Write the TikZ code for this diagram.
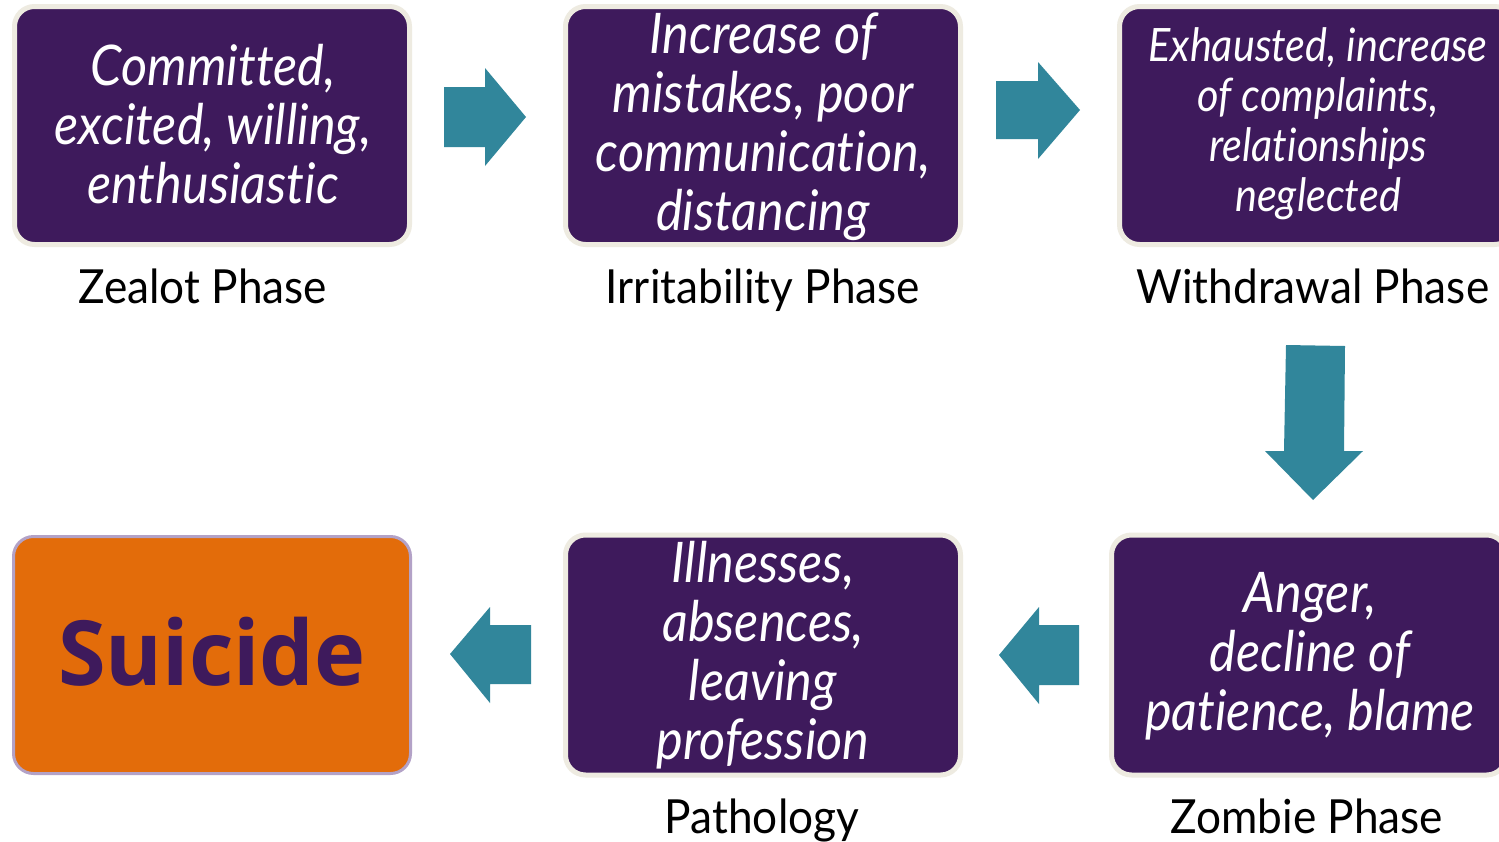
\documentclass[tikz,border=0pt]{standalone}
\usepackage{fontspec}
\setmainfont{Lato}[Ligatures={NoCommon}, UprightFeatures={FakeStretch=0.94}, ItalicFeatures={FakeStretch=0.9}]
\newfontfamily\suifont{Open Sans}[FakeStretch=0.96]
\definecolor{deeppurple}{HTML}{3E1A5C}
\definecolor{cream}{HTML}{EEEBE1}
\definecolor{burnorange}{HTML}{E36C0A}
\definecolor{lavend}{HTML}{B3A2C7}
\definecolor{tealarrow}{HTML}{31869B}
\tikzset{
  phasebox/.style={draw=cream, line width=2.5pt, fill=deeppurple, rounded corners=10pt,
    minimum width=197.5pt, minimum height=119pt, inner sep=0pt},
  boxtext/.style={text=white, align=center, inner sep=0pt,
    font=\fontsize{28}{29.5}\selectfont\itshape},
  smalltext/.style={text=white, align=center, inner sep=0pt,
    font=\fontsize{23}{25}\selectfont\itshape},
  phaselabel/.style={anchor=base, inner sep=0pt, font=\fontsize{23.5}{26}\selectfont},
  blockarrow/.style={fill=tealarrow, draw=none},
}
\begin{document}
\begin{tikzpicture}[x=0.5pt,y=-0.5pt]
\useasboundingbox[fill=white] (0,0) rectangle (1499,841);
% top row boxes
\node[phasebox] (b1) at (212,125.5) {};
\node[phasebox] (b2) at (763,125.5) {};
\node[phasebox] (b3) at (1317,125.5) {};
% bottom row boxes
\node[draw=lavend, line width=1.5pt, fill=burnorange, rounded corners=10pt,
  minimum width=198.5pt, minimum height=118.5pt, inner sep=0pt] (b6) at (212,655) {};
\node[phasebox, minimum height=120pt] (b5) at (763,655) {};
\node[phasebox, minimum height=120pt] (b4) at (1309,655) {};
% box texts
\node[boxtext] (t1) at (213,124) {Committed,\\excited, willing,\\enthusiastic};
\node[boxtext] (t2) at (763,127) {Increase of\\mistakes, poor\\communication,\\distancing};
\node[smalltext] (t3) at (1318,124) {Exhausted, increase\\of complaints,\\relationships\\neglected};
\node[boxtext] (t5) at (763,655) {Illnesses,\\absences,\\leaving\\profession};
\node[boxtext] (t4) at (1310,656) {Anger,\\decline of\\patience, blame};
\node[text=deeppurple, inner sep=0pt, font=\suifont\bfseries\fontsize{45}{50}\selectfont] (t6) at (212,652) {Suicide};
% phase labels
\node[phaselabel] (l1) at (203,303) {Zealot Phase};
\node[phaselabel] (l2) at (763,303) {Irritability Phase};
\node[phaselabel] (l3) at (1313,303) {Withdrawal Phase};
\node[phaselabel] (l5) at (762,833) {Pathology};
\node[phaselabel] (l4) at (1307,833) {Zombie Phase};
% block arrows
\fill[blockarrow] (444,87) -- (485,87) -- (485,68) -- (526,117) -- (485,166) -- (485,147) -- (444,147) -- cycle;
\fill[blockarrow] (996,81) -- (1038,81) -- (1038,62) -- (1080,110) -- (1038,159) -- (1038,139) -- (996,139) -- cycle;
\fill[blockarrow] (1286,345) -- (1345,346) -- (1344,451) -- (1363,451) -- (1313,500) -- (1265,451) -- (1284,451) -- cycle;
\fill[blockarrow] (1079,625) -- (1039,625) -- (1039,607) -- (999,655) -- (1039,704) -- (1039,685) -- (1079,685) -- cycle;
\fill[blockarrow] (531,625) -- (490,625) -- (490,607) -- (450,654) -- (490,703) -- (490,684) -- (531,684) -- cycle;
\end{tikzpicture}
\end{document}
